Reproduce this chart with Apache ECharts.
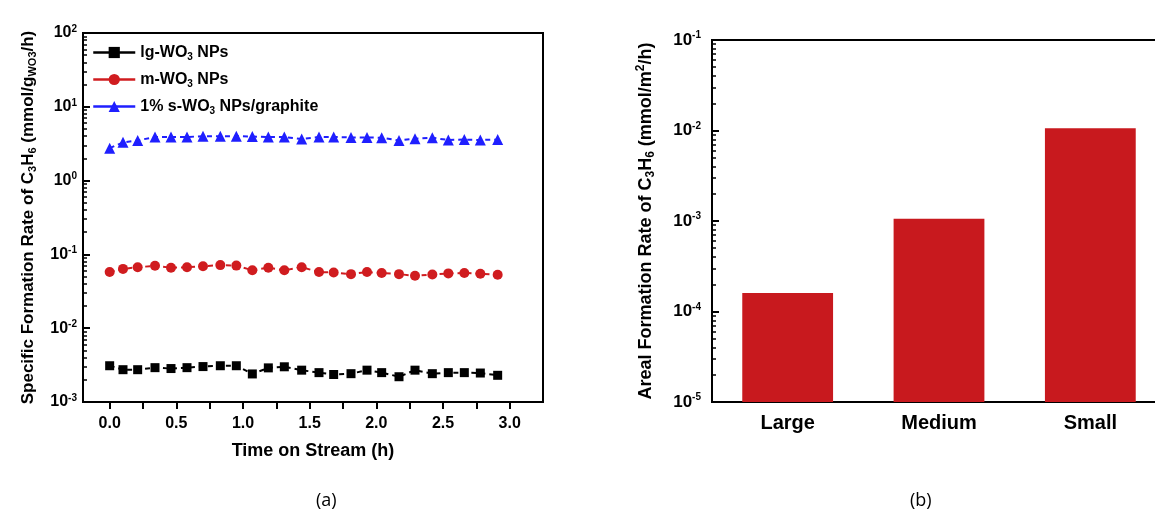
<!DOCTYPE html>
<html>
<head>
<meta charset="utf-8">
<script src="https://cdn.jsdelivr.net/npm/echarts@6/dist/echarts.min.js"></script>
<style>
html,body{margin:0;padding:0;background:#fff;}
#chart{width:1155px;height:517px;}
</style>
</head>
<body>
<div id="chart"></div>
<script>
// ---------- data ----------
const timeH = [0, 0.10, 0.21, 0.34, 0.46, 0.58, 0.70, 0.83, 0.95, 1.07, 1.19, 1.31, 1.44, 1.57, 1.68, 1.81, 1.93, 2.04, 2.17, 2.29, 2.42, 2.54, 2.66, 2.78, 2.91];
const lgWO3 = [0.0031, 0.00274, 0.00274, 0.00292, 0.00284, 0.00292, 0.00302, 0.0031, 0.0031, 0.0024, 0.0029, 0.003, 0.0027, 0.0025, 0.00236, 0.00242, 0.0027, 0.0025, 0.0022, 0.0027, 0.00242, 0.0025, 0.0025, 0.00247, 0.0023];
const mWO3 = [0.0577, 0.0636, 0.067, 0.070, 0.066, 0.067, 0.069, 0.0716, 0.0705, 0.061, 0.066, 0.061, 0.067, 0.0577, 0.057, 0.054, 0.0577, 0.056, 0.054, 0.0513, 0.0535, 0.0553, 0.056, 0.0546, 0.053];
const sWO3graphite = [2.75, 3.3, 3.5, 3.9, 3.9, 3.9, 4.0, 4.0, 4.0, 3.95, 3.9, 3.9, 3.67, 3.9, 3.9, 3.85, 3.85, 3.8, 3.5, 3.7, 3.8, 3.55, 3.6, 3.55, 3.6];
const seriesNames = ['lg-WO3 NPs', 'm-WO3 NPs', '1% s-WO3 NPs/graphite'];

const sizeCategories = ['Large', 'Medium', 'Small'];
const arealRate = [1.6e-4, 1.06e-3, 1.06e-2];

const xTicksA = [0, 0.25, 0.5, 0.75, 1.0, 1.25, 1.5, 1.75, 2.0, 2.25, 2.5, 2.75, 3.0];
const xLabelsA = [0, 0.5, 1.0, 1.5, 2.0, 2.5, 3.0];
const yMinA = 1e-3, yMaxA = 100;
const yMinB = 1e-5, yMaxB = 1e-1;

// minor log ticks (positions in log10 space)
function minorLog(lo, hi) {
  const out = [];
  for (let e = lo; e < hi; e++) for (let k = 2; k <= 9; k++) out.push(e + Math.log10(k));
  return out;
}

const FONT = 'Liberation Sans';
const colors = ['#000000', '#d01c1f', '#1f1fff'];
const symbols = ['rect', 'circle', 'triangle'];
const symSizes = [9, 10, 11];

const supRich = { sup: { fontSize: 10, fontWeight: 'bold', fontFamily: FONT, verticalAlign: 'top', lineHeight: 10, padding: [0, 0, 8, 0] } };
const subRich = (fs) => ({ sub: { fontSize: fs, fontWeight: 'bold', fontFamily: FONT, verticalAlign: 'bottom', lineHeight: fs, padding: [7, 0, 0, 0] } });
const supRich2 = (fs) => ({ sup: { fontSize: fs, fontWeight: 'bold', fontFamily: FONT, verticalAlign: 'top', lineHeight: fs, padding: [0, 0, 7, 0] } });
const expFmt = v => '10{sup|' + Math.round(Math.log10(v)) + '}';

const chart = echarts.init(document.getElementById('chart'), null, { renderer: 'canvas' });

const lineSeries = [lgWO3, mWO3, sWO3graphite].map((vals, i) => ({
  name: seriesNames[i],
  type: 'line',
  xAxisIndex: 0, yAxisIndex: 0,
  data: timeH.map((t, j) => [t, vals[j]]),
  symbol: symbols[i],
  symbolSize: symSizes[i],
  itemStyle: { color: colors[i] },
  lineStyle: { color: colors[i], width: 2, type: [5, 4] },
  animation: false
}));

const option = {
  animation: false,
  backgroundColor: '#fff',
  textStyle: { fontFamily: FONT },
  grid: [
    { left: 83, top: 33, width: 460, height: 369, outerBoundsMode: 'none', containLabel: false, show: true, borderColor: '#000', borderWidth: 2, backgroundColor: 'transparent' },
    { left: 712, top: 40, width: 454, height: 362, outerBoundsMode: 'none', containLabel: false, show: true, borderColor: '#000', borderWidth: 2, backgroundColor: 'transparent' }
  ],
  legend: {
    data: seriesNames,
    orient: 'vertical',
    left: 92, top: 43,
    padding: 0,
    itemWidth: 42, itemHeight: 14, itemGap: 8,
    lineStyle: { type: 'solid', width: 2.5 },
    formatter: n => n.replace('WO3', 'WO{sub|3}'),
    textStyle: { fontFamily: FONT, fontWeight: 'bold', fontSize: 16, color: '#000', lineHeight: 19, rich: subRich(10) }
  },
  xAxis: [
    {
      type: 'value', gridIndex: 0, min: -0.2, max: 3.25,
      name: 'Time on Stream (h)', nameLocation: 'middle', nameGap: 40,
      nameTextStyle: { fontFamily: FONT, fontWeight: 'bold', fontSize: 18, color: '#000' },
      axisLine: { show: true, onZero: false, lineStyle: { color: '#000', width: 2 } },
      axisTick: { show: true, inside: false, length: 7, customValues: xTicksA, lineStyle: { color: '#000', width: 2 } },
      axisLabel: { customValues: xLabelsA, formatter: v => v.toFixed(1), margin: 14, fontFamily: FONT, fontWeight: 'bold', fontSize: 16, color: '#000' },
      splitLine: { show: false }
    },
    {
      type: 'category', gridIndex: 1, data: sizeCategories,
      axisLine: { show: true, lineStyle: { color: '#000', width: 2 } },
      axisTick: { show: false },
      axisLabel: { margin: 11, fontFamily: FONT, fontWeight: 'bold', fontSize: 20, color: '#000' },
      splitLine: { show: false }
    }
  ],
  yAxis: [
    {
      type: 'log', gridIndex: 0, logBase: 10, min: yMinA, max: yMaxA, position: 'left',
      name: 'Specific Formation Rate of C{sub|3}H{sub|6} (mmol/g{sub|WO3}/h)',
      nameLocation: 'middle', nameGap: 45, nameRotate: 90,
      nameTextStyle: { fontFamily: FONT, fontWeight: 'bold', fontSize: 17, color: '#000', lineHeight: 20, rich: subRich(11) },
      axisLine: { show: true, onZero: false, lineStyle: { color: '#000', width: 2 } },
      axisTick: { show: true, inside: true, length: 7, lineStyle: { color: '#000', width: 2 } },
      axisLabel: { formatter: expFmt, margin: 6, fontFamily: FONT, fontWeight: 'bold', fontSize: 16, color: '#000', lineHeight: 18, rich: supRich },
      splitLine: { show: false }
    },
    {
      type: 'log', gridIndex: 1, logBase: 10, min: yMinB, max: yMaxB, position: 'left',
      name: 'Areal Formation Rate of C{sub|3}H{sub|6} (mmol/m{sup|2}/h)',
      nameLocation: 'middle', nameGap: 55, nameRotate: 90,
      nameTextStyle: { fontFamily: FONT, fontWeight: 'bold', fontSize: 18, color: '#000', lineHeight: 22, rich: Object.assign({}, subRich(12), supRich2(12)) },
      axisLine: { show: true, onZero: false, lineStyle: { color: '#000', width: 2 } },
      axisTick: { show: true, inside: true, length: 7, lineStyle: { color: '#000', width: 2 } },
      axisLabel: { formatter: expFmt, margin: 11, fontFamily: FONT, fontWeight: 'bold', fontSize: 17, color: '#000', lineHeight: 19, rich: supRich },
      splitLine: { show: false }
    },
    {
      type: 'value', gridIndex: 0, min: Math.log10(yMinA), max: Math.log10(yMaxA), position: 'left',
      axisLine: { show: false, onZero: false }, axisLabel: { show: false }, splitLine: { show: false },
      axisTick: { show: true, inside: true, length: 4, customValues: minorLog(-3, 2), lineStyle: { color: '#000', width: 1.5 } }
    },
    {
      type: 'value', gridIndex: 1, min: Math.log10(yMinB), max: Math.log10(yMaxB), position: 'left',
      axisLine: { show: false, onZero: false }, axisLabel: { show: false }, splitLine: { show: false },
      axisTick: { show: true, inside: true, length: 4, customValues: minorLog(-5, -1), lineStyle: { color: '#000', width: 1.5 } }
    }
  ],
  series: lineSeries.concat([
    {
      type: 'custom',
      xAxisIndex: 1, yAxisIndex: 1,
      data: arealRate.map((v, i) => [i, v]),
      renderItem: (params, api) => {
        const top = api.coord([api.value(0), api.value(1)]);
        const base = api.coord([api.value(0), yMinB]);
        const w = api.size([1, 0])[0] * 0.6;
        return {
          type: 'rect',
          shape: { x: top[0] - w / 2, y: top[1], width: w, height: base[1] - top[1] },
          style: { fill: '#c8191e' }
        };
      },
      animation: false
    }
  ]),
  graphic: [
    { type: 'text', left: 316, top: 492, style: { text: '(a)', font: '18px "Open Sans"', fill: '#000' } },
    { type: 'text', left: 910, top: 492, style: { text: '(b)', font: '18px "Open Sans"', fill: '#000' } }
  ]
};

chart.setOption(option);
</script>
</body>
</html>
